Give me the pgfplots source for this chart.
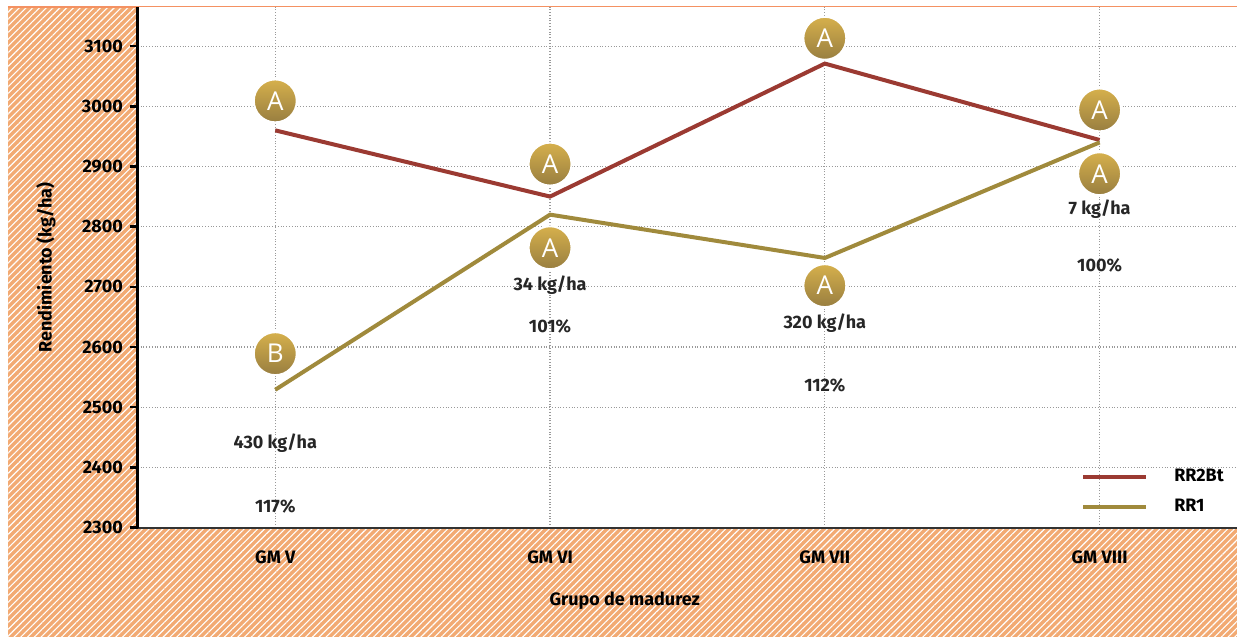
\documentclass[border=0pt]{standalone}
\usepackage{fontspec}
\setmainfont{Fira Sans}
\newfontfamily\circfont{Open Sans}
\usepackage{pgfplots}
\pgfplotsset{compat=1.18}
\usetikzlibrary{patterns.meta}

\definecolor{hatch}{RGB}{242,170,115}
\definecolor{rrbt}{RGB}{155,58,50}
\definecolor{rrone}{RGB}{160,138,60}
\definecolor{goldT}{RGB}{214,176,76}
\definecolor{goldB}{RGB}{152,126,64}
\newcommand\lab{\fontsize{9}{11}\selectfont\bfseries}

\begin{document}
\begin{tikzpicture}
  % fondo rayado
  \path (-69pt,-55pt) rectangle (550pt,264pt);
  \fill[hatch] (-65pt,-55pt) rectangle (550pt,260.5pt);
  \fill[pattern={Lines[angle=45,distance=2.4pt,line width=0.55pt]}, pattern color=white]
    (-65pt,-55pt) rectangle (550pt,260.5pt);
  \draw[hatch!85!red, line width=1pt] (-65pt,260.5pt) -- (550pt,260.5pt);

  \begin{axis}[
    at={(0,0)}, anchor=south west,
    scale only axis, width=550pt, height=260.5pt,
    xmin=-0.5, xmax=3.5, ymin=2300, ymax=3165,
    axis x line*=bottom, axis y line*=left,
    x axis line style={-, draw=black!80, line width=1pt},
    y axis line style={-, draw=black, line width=1.5pt},
    axis background/.style={fill=white},
    xtick={0,1,2,3},
    xticklabels={GM V, GM VI, GM VII, GM VIII},
    ytick={2300,2400,...,3100},
    tick align=outside, major tick length=4pt,
    xtick style={draw=none},
    ytick style={draw=black, line width=1.2pt},
    extra x ticks={-0.5,0.5,1.5,2.5},
    extra x tick labels={},
    extra x tick style={grid=none, major tick length=4pt, tick style={draw=black, line width=1.2pt}},
    xmajorgrids, ymajorgrids,
    grid style={densely dotted, gray!80, line width=0.6pt},
    ticklabel style={font=\lab},
    /pgf/number format/assume math mode=true,
    /pgf/number format/1000 sep={},
    xticklabel style={yshift=-4pt},
    xlabel={Grupo de madurez},
    ylabel={Rendimiento (kg/ha)},
    label style={font=\lab},
    xlabel style={at={(axis description cs:0.443,-0.14)}, anchor=center},
    ylabel style={at={(axis description cs:-0.0836,0.5)}, anchor=center},
    legend style={at={(axis description cs:0.858,0.121)}, anchor=north west,
      draw=none, fill=none, inner sep=0pt, row sep=3.5pt, column sep=11pt,
      font=\lab},
    legend cell align=left,
    legend image code/.code={\draw[#1] (0pt,0pt) -- (31.5pt,0pt);},
  ]
    \addplot[rrbt, line width=2pt] coordinates {(0,2960) (1,2850) (2,3071) (3,2944)};
    \addlegendentry{RR2Bt}
    \addplot[rrone, line width=2pt] coordinates {(0,2529) (1,2820) (2,2748) (3,2940)};
    \addlegendentry{RR1}

    % letras de significancia
    \addplot[forget plot, draw=none, mark=none, nodes near coords,
      point meta=explicit symbolic, nodes near coords align=center,
      every node near coord/.append style={circle, anchor=center, minimum size=21.5pt,
        inner sep=0pt, top color=goldT, bottom color=goldB, draw=white,
        line width=1pt, text=white, font=\circfont\fontsize{13}{15}\selectfont}]
      table[meta=lab] {
      x y lab
      0 3009 A
      0 2589 B
      1 2904 A
      1 2765 A
      2 3113 A
      2 2702 A
      3 2994 A
      3 2888 A
    };

    % diferencias
    \addplot[forget plot, draw=none, mark=none, nodes near coords,
      point meta=explicit symbolic, nodes near coords align=center,
      every node near coord/.append style={anchor=center, inner sep=0pt,
        text=black!85, font=\lab}]
      table[meta=lab, col sep=comma] {
      x,y,lab
      0,2441,430 kg/ha
      0,2335,117\%
      1,2703,34 kg/ha
      1,2635,101\%
      2,2640,320 kg/ha
      2,2536,112\%
      3,2829,7 kg/ha
      3,2735,100\%
    };
  \end{axis}
\end{tikzpicture}
\end{document}
